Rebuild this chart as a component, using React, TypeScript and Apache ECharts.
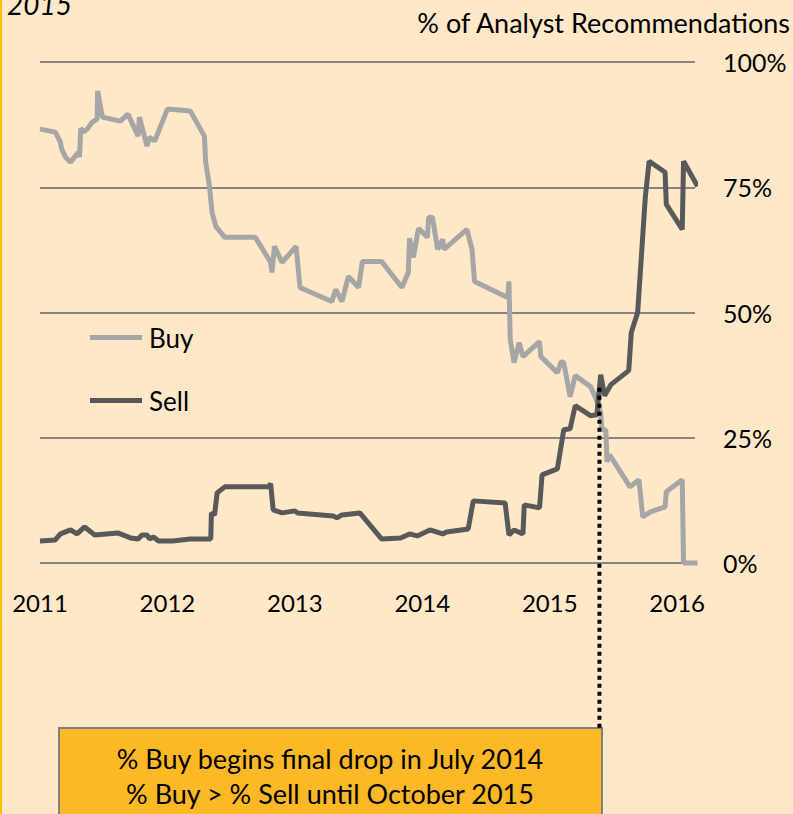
import React, { useEffect, useRef } from "react";
import * as echarts from "echarts";

const yearLabels = ["2011", "2012", "2013", "2014", "2015", "2016"];
const yTicks = [0, 25, 50, 75, 100];

const buyT = [2011.0, 2011.12, 2011.16, 2011.17, 2011.2, 2011.24, 2011.3, 2011.31, 2011.32, 2011.34, 2011.37, 2011.41, 2011.448, 2011.452, 2011.49, 2011.63, 2011.69, 2011.77, 2011.78, 2011.84, 2011.86, 2011.9, 2012.0, 2012.18, 2012.29, 2012.3, 2012.33, 2012.35, 2012.38, 2012.45, 2012.69, 2012.81, 2012.82, 2012.84, 2012.9, 2013.01, 2013.04, 2013.29, 2013.32, 2013.37, 2013.42, 2013.5, 2013.53, 2013.68, 2013.84, 2013.89, 2013.9, 2013.93, 2013.97, 2014.04, 2014.05, 2014.08, 2014.12, 2014.16, 2014.17, 2014.35, 2014.39, 2014.41, 2014.67, 2014.68, 2014.69, 2014.72, 2014.76, 2014.79, 2014.92, 2014.93, 2015.06, 2015.09, 2015.11, 2015.16, 2015.2, 2015.32, 2015.36, 2015.4, 2015.41, 2015.44, 2015.45, 2015.47, 2015.63, 2015.7, 2015.73, 2015.79, 2015.905, 2015.915, 2016.04, 2016.05, 2016.16];
const buyV = [86.6, 86, 84, 82.6, 81, 80, 82, 81, 86.8, 86, 86.6, 88, 88.6, 94.2, 89, 88.2, 89.6, 85.2, 89, 83.2, 85, 84.2, 90.6, 90.2, 85.2, 80, 75.2, 70, 67.2, 65, 65, 60, 58, 63.2, 60, 63.2, 55, 52.2, 54.6, 52.2, 57.2, 55, 60.2, 60.2, 55, 58, 64.8, 61, 66.8, 65, 69, 69, 62.6, 64.6, 62.6, 66.6, 62.6, 56.2, 53, 56.2, 44.6, 40, 44, 41.2, 44.2, 41.2, 38, 40.2, 40, 33.2, 37.4, 35.2, 33, 30, 26.6, 26.6, 20.2, 21.6, 15.2, 16.6, 9.2, 10.2, 11.2, 14.2, 16.6, 0, 0];

const sellT = [2011.0, 2011.12, 2011.16, 2011.24, 2011.29, 2011.35, 2011.43, 2011.61, 2011.71, 2011.77, 2011.8, 2011.84, 2011.86, 2011.89, 2011.93, 2012.04, 2012.18, 2012.34, 2012.345, 2012.37, 2012.39, 2012.45, 2012.79, 2012.81, 2012.83, 2012.9, 2013.0, 2013.02, 2013.3, 2013.33, 2013.37, 2013.51, 2013.68, 2013.83, 2013.9, 2013.96, 2014.06, 2014.16, 2014.19, 2014.36, 2014.4, 2014.65, 2014.68, 2014.72, 2014.79, 2014.8, 2014.92, 2014.94, 2015.06, 2015.11, 2015.16, 2015.2, 2015.32, 2015.37, 2015.4, 2015.43, 2015.48, 2015.62, 2015.64, 2015.69, 2015.75, 2015.78, 2015.905, 2015.915, 2016.04, 2016.05, 2016.16];
const sellV = [4.4, 4.6, 5.8, 6.6, 5.8, 7.2, 5.6, 6, 5, 4.8, 5.6, 5.6, 4.8, 5.2, 4.4, 4.4, 4.8, 4.8, 10, 9.6, 14, 15.2, 15.2, 15.8, 10.6, 10, 10.4, 10, 9.4, 9, 9.6, 10, 4.8, 5, 5.8, 5.4, 6.6, 5.8, 6.2, 6.8, 12.4, 12, 5.6, 6.6, 5.8, 11.6, 11, 17.6, 18.8, 26.6, 26.8, 31.4, 29.4, 29.6, 37.6, 33.4, 35.6, 38.4, 46, 50, 73, 80.2, 78, 71.6, 66.6, 80.2, 75.2];

const crossPoint = [2015.39, 35];
const axisTitle = "% of Analyst Recommendations";
const noteLines = ["% Buy begins final drop in July 2014", "% Buy > % Sell until October 2015"];

const FONT = "Lato";

export default function App() {
  const ref = useRef<HTMLDivElement>(null);
  useEffect(() => {
    if (!ref.current) return;
    const chart = echarts.init(ref.current, null, { renderer: "svg" });
    const buy = buyT.map((t, i) => [t, buyV[i]]);
    const sell = sellT.map((t, i) => [t, sellV[i]]);
    const boxTop = 728;
    const baseGraphic: any[] = [
      { type: "rect", shape: { x: 0, y: 0, width: 2, height: 814 }, style: { fill: "#FFC000" } },
      {
        type: "text", x: 7, y: 18,
        style: { text: "2015", font: `italic 28px ${FONT}`, fill: "#000", textVerticalAlign: "bottom" },
      },
      {
        type: "text", x: 790, y: 22,
        style: { text: axisTitle, font: `27px ${FONT}`, fill: "#000", textAlign: "right", textVerticalAlign: "middle" },
      },
      {
        type: "rect", shape: { x: 59, y: boxTop, width: 543, height: 120 },
        style: { fill: "#FDB825", stroke: "#7F7F7F", lineWidth: 2 },
      },
      {
        type: "text", x: 330, y: 758,
        style: { text: noteLines[0], font: `27px ${FONT}`, fill: "#000", textAlign: "center", textVerticalAlign: "middle" },
      },
      {
        type: "text", x: 330, y: 793,
        style: { text: noteLines[1], font: `27px ${FONT}`, fill: "#000", textAlign: "center", textVerticalAlign: "middle" },
      },
    ];
    const option: any = {
      animation: false,
      backgroundColor: "#FEE8C8",
      textStyle: { fontFamily: FONT },
      grid: { left: 40, right: 98, top: 62, bottom: 251, containLabel: false },
      legend: {
        orient: "vertical",
        left: 90,
        top: 324,
        padding: 0,
        itemWidth: 52,
        itemHeight: 27,
        itemGap: 36,
        icon: "path://M0,11 L52,11 L52,16 L0,16 Z",
        data: [
          { name: "Buy", itemStyle: { color: "#A6A6A6" } },
          { name: "Sell", itemStyle: { color: "#595959" } },
        ],
        textStyle: { fontSize: 26, color: "#000", fontFamily: FONT, lineHeight: 27, padding: [0, 0, 0, 2] },
      },
      xAxis: {
        type: "value",
        min: 2011,
        max: 2016.14,
        interval: 1,
        axisLine: { show: false },
        axisTick: { show: false },
        splitLine: { show: false },
        axisLabel: {
          fontSize: 24,
          color: "#000",
          margin: 27,
          showMaxLabel: false,
          formatter: (v: number) => (yearLabels.includes(String(v)) ? String(v) : ""),
        },
      },
      yAxis: {
        type: "value",
        position: "right",
        min: yTicks[0],
        max: yTicks[yTicks.length - 1],
        interval: 25,
        axisLine: { show: false },
        axisTick: { show: false },
        splitLine: { lineStyle: { color: "#858585", width: 2 } },
        axisLabel: { fontSize: 25, color: "#000", margin: 28, formatter: "{value}%" },
      },
      series: [
        {
          name: "Buy", type: "line", data: buy, symbol: "none", clip: false,
          lineStyle: { color: "#A6A6A6", width: 5 }, itemStyle: { color: "#A6A6A6" },
        },
        {
          name: "Sell", type: "line", data: sell, symbol: "none", clip: false,
          lineStyle: { color: "#595959", width: 5 }, itemStyle: { color: "#595959" },
        },
      ],
      graphic: baseGraphic,
    };
    chart.setOption(option);
    const p = chart.convertToPixel({ xAxisIndex: 0, yAxisIndex: 0 }, crossPoint) as number[];
    chart.setOption({
      graphic: [
        ...baseGraphic,
        {
          type: "line",
          shape: { x1: p[0], y1: p[1], x2: p[0], y2: boxTop },
          style: { stroke: "#000", lineWidth: 4, lineDash: [4, 4] },
          z: 10,
        },
      ],
    });
    return () => chart.dispose();
  }, []);
  return <div ref={ref} style={{ position: "fixed", left: 0, top: 0, width: 793, height: 814 }} />;
}
